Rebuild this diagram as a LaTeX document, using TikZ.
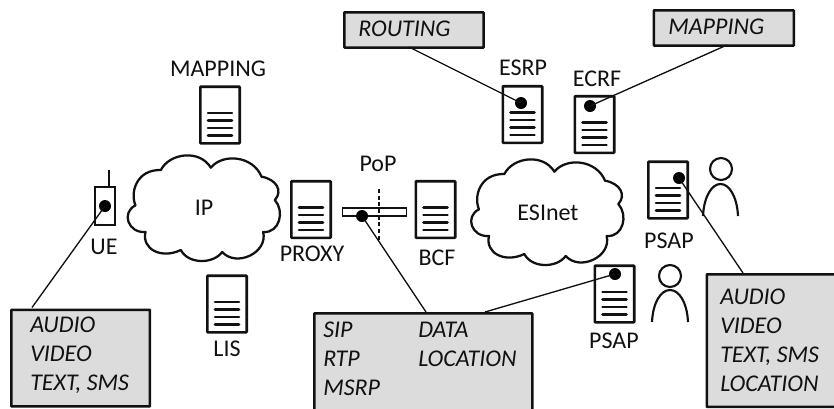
\documentclass[tikz,border=0pt]{standalone}
\usepackage{fontspec}
\setmainfont{Carlito}
\definecolor{ink}{HTML}{111111}
\definecolor{boxgray}{HTML}{DCDCDC}
\newcommand{\docsheet}[3]{%
  \node[docbox] (#1) at (#2,#3) {};
  \foreach \dy in {-2,5.5,13,20.5}
    \draw[docline] ([xshift=-12pt*0.75,yshift=-\dy*0.75pt]#1.center) -- ([xshift=12pt*0.75,yshift=-\dy*0.75pt]#1.center);
}
\tikzset{
  x=0.75pt,y=-0.75pt,
  every node/.style={font=\fontsize{18pt}{21.75pt}\selectfont,text=ink,inner sep=0pt},
  itlab/.style={font=\fontsize{18pt}{21.75pt}\selectfont\itshape,align=left,anchor=west},
  docbox/.style={draw=ink,line width=2pt,fill=white,minimum width=29.5pt,minimum height=42.5pt,rounded corners=0.5pt},
  docline/.style={draw=ink,line width=1.9pt,line cap=round},
  graybox/.style={draw=ink,line width=1.9pt,fill=boxgray,rounded corners=0.5pt,anchor=north west},
  dotmark/.style={circle,fill=black,minimum size=9pt},
  leader/.style={draw=ink,line width=1pt},
  cloudline/.style={draw=ink,line width=1.7pt,fill=white,line join=round},
  personline/.style={draw=ink,line width=1.6pt},
  cloudshape/.pic={
    \begin{scope}[x=0.25pt,y=-0.25pt]
    \draw[cloudline] (42,178)
      .. controls (25,140) and (45,70) .. (118,72)
      .. controls (145,20) and (235,10) .. (268,65)
      .. controls (305,20) and (395,30) .. (420,92)
      .. controls (465,100) and (485,135) .. (460,162)
      .. controls (490,195) and (475,262) .. (425,258)
      .. controls (440,320) and (345,365) .. (302,318)
      .. controls (275,355) and (200,355) .. (178,312)
      .. controls (120,340) and (60,310) .. (72,258)
      .. controls (20,262) and (-2,200) .. (42,178) -- cycle;
    \end{scope}
  }
}
\begin{document}
\begin{tikzpicture}
\clip (0,0) rectangle (834,408);
% clouds
\pic at (121.5,146) {cloudshape};
\pic at (465,150) {cloudshape};
\node (iplabel) at (204,208) {IP};
\node (esilabel) at (548,213) {ESInet};
% gray boxes
\node[graybox,minimum width=104pt,minimum height=72.5pt] (boxue) at (10,308.5) {};
\node[graybox,minimum width=163.5pt,minimum height=90pt] (boxpop) at (313,312) {};
\node[graybox,minimum width=105pt,minimum height=99.5pt] (boxpsap) at (705.5,273) {};
\node[graybox,minimum width=104.5pt,minimum height=26.5pt] (boxrouting) at (343,11) {};
\node[graybox,minimum width=105pt,minimum height=26.5pt] (boxmapping) at (652.5,9) {};
% box texts
\node[itlab] (txue) at (30,355.5) {AUDIO\\VIDEO\\TEXT, SMS};
\node[itlab] (txpopa) at (323,358.5) {SIP\\RTP\\MSRP};
\node[itlab] (txpopb) at (418,344) {DATA\\LOCATION};
\node[itlab] (txpsap) at (720,340) {AUDIO\\VIDEO\\TEXT, SMS\\LOCATION};
\node[itlab] (txrouting) at (358,29) {ROUTING};
\node[itlab] (txmapping) at (668,27) {MAPPING};
% documents
\docsheet{docmap}{220}{115}
\docsheet{doclis}{227}{304}
\docsheet{docproxy}{311}{209.5}
\docsheet{docbcf}{435.5}{209.5}
\docsheet{docesrp}{522.5}{114.5}
\docsheet{docecrf}{594.5}{124.5}
\docsheet{docpsapa}{668}{190}
\docsheet{docpsapb}{614.5}{294}
% UE
\coordinate (antenna) at (109,170);
\node[draw=ink,line width=1.6pt,fill=white,minimum width=15pt,minimum height=28.5pt] (ue) at (105,206) {};
\draw[draw=ink,line width=1.5pt] (antenna) -- (antenna |- ue.north);
% PoP bar
\node[draw=ink,line width=0.9pt,fill=white,minimum width=48.5pt,minimum height=6pt] (popbar) at (374.5,212) {};
\coordinate (poptop) at (379,189);
\coordinate (popbot) at (379,240);
\draw[draw=ink,line width=1.9pt,dash pattern=on 3pt off 2pt] (poptop) -- (popbot);
% dots
\node[dotmark] (dotue) at (105,206) {};
\node[dotmark] (dotpop) at (362,216) {};
\node[dotmark] (dotesrp) at (521,103) {};
\node[dotmark] (dotecrf) at (590,106) {};
\node[dotmark] (dotpsapa) at (679,178) {};
\node[dotmark] (dotpsapb) at (615,274) {};
% leader ends on the boxes
\coordinate (endue) at (32,307.5);
\coordinate (endpopa) at (426,312);
\coordinate (endpopb) at (485,312);
\coordinate (endpsap) at (743,273);
\coordinate (endrouting) at (409,47);
\coordinate (endmapping) at (727,45);
\draw[leader] (dotue.center) -- (endue);
\draw[leader] (dotpop.center) -- (endpopa);
\draw[leader] (dotpsapb.center) -- (endpopb);
\draw[leader] (dotpsapa.center) -- (endpsap);
\draw[leader] (dotesrp.center) -- (endrouting);
\draw[leader] (dotecrf.center) -- (endmapping);
% persons
\node[circle,draw=ink,line width=1.6pt,minimum size=16.5pt] (heada) at (721,169) {};
\node[circle,draw=ink,line width=1.6pt,minimum size=16.5pt] (headb) at (670,276) {};
\draw[personline] (703,216) .. controls (704,196) and (712,184) .. (720.5,184) .. controls (729,184) and (737,196) .. (738,216);
\draw[personline] (652,322) .. controls (653,302) and (661,290) .. (670,290) .. controls (679,290) and (687,302) .. (688,322);
% labels
\node (lbmap) at (218,69) {MAPPING};
\node (lblis) at (227,349) {LIS};
\node (lbue) at (104,247) {UE};
\node (lbproxy) at (312,254) {PROXY};
\node (lbpop) at (378,164) {PoP};
\node (lbbcf) at (437,258) {BCF};
\node (lbesrp) at (523,68) {ESRP};
\node (lbecrf) at (597,79) {ECRF};
\node (lbpsapa) at (669,241) {PSAP};
\node (lbpsapb) at (614,341) {PSAP};
\end{tikzpicture}
\end{document}
